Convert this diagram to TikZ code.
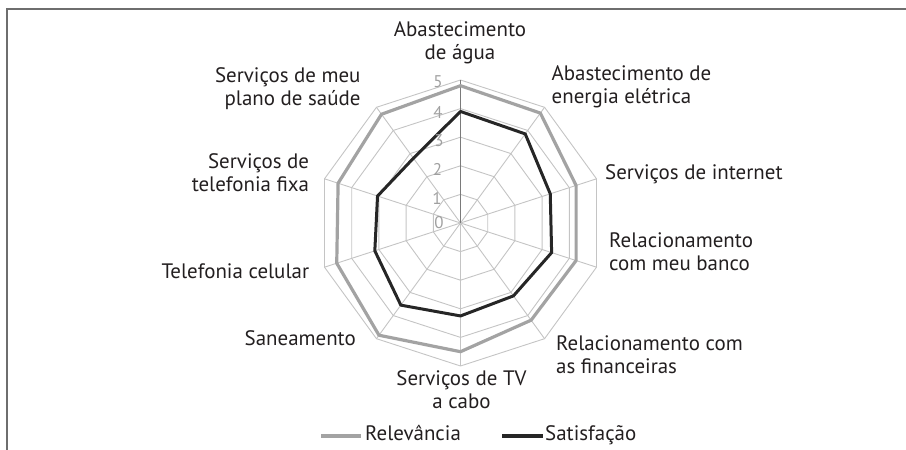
\documentclass[tikz,border=0pt]{standalone}
\usepackage{fontspec}
\setmainfont{PT Sans}
\definecolor{gridgray}{HTML}{C4C4C4}
\definecolor{axisgray}{HTML}{7A7A7A}
\definecolor{relgray}{HTML}{A3A3A3}
\definecolor{satblack}{HTML}{262626}
\definecolor{txt}{HTML}{231F20}
\definecolor{tickgray}{HTML}{A0A0A0}
\definecolor{framegray}{HTML}{6E6E6E}
\begin{document}
\begin{tikzpicture}[x=1bp,y=-1bp,
  grid/.style={draw=gridgray, line width=0.9bp},
  axisline/.style={draw=axisgray, line width=0.9bp},
  relev/.style={draw=relgray, line width=3.2bp, line join=round},
  satis/.style={draw=satblack, line width=3bp, line join=round},
  lbl/.style={font=\fontsize{21}{23.3}\selectfont, text=txt, inner sep=0pt},
  tick/.style={font=\fontsize{17}{18}\selectfont, text=tickgray, inner sep=0pt},
  frameline/.style={draw=framegray, line width=1.5bp}]
\useasboundingbox (0,0) rectangle (906,450);
\def\U{28.6}
% frame
\coordinate (fbl) at (7,450);
\coordinate (ftl) at (7,9);
\coordinate (ftr) at (906,9);
\draw[frameline] (fbl) -- (ftl) -- (ftr);
\coordinate (C) at (460.5,223);
\begin{scope}[shift={(C)}]
  % rings
  \foreach \r in {1,...,5} {
    \draw[grid] (-90:{\r*\U}) \foreach \k in {1,...,9} { -- ({36*\k-90}:{\r*\U}) } -- cycle;
  }
  % spokes
  \foreach \k in {1,...,9} {
    \draw[grid] (0,0) -- ({36*\k-90}:{5*\U});
  }
  \draw[axisline] (0,0) -- (-90:{5*\U});
  % Relevancia
  \draw[relev] (-90:{4.8*\U}) -- (-54:{4.75*\U}) -- (-18:{4.25*\U}) -- (18:{4.25*\U})
    -- (54:{4.2*\U}) -- (90:{4.5*\U}) -- (126:{4.85*\U}) -- (162:{4.55*\U})
    -- (198:{4.5*\U}) -- (234:{4.7*\U}) -- cycle;
  % Satisfacao
  \draw[satis] (-90:{3.9*\U}) -- (-54:{3.85*\U}) -- (-18:{3.3*\U}) -- (18:{3.35*\U})
    -- (54:{3.15*\U}) -- (90:{3.25*\U}) -- (126:{3.55*\U}) -- (162:{3.15*\U})
    -- (198:{3.05*\U}) -- (234:{2.8*\U}) -- cycle;
\end{scope}
% axis numbers
\node[tick] (t5) at (438,82) {5};
\node[tick] (t4) at (438,112) {4};
\node[tick] (t3) at (439,141) {3};
\node[tick] (t2) at (437.5,169) {2};
\node[tick] (t1) at (437,198) {1};
\node[tick] (t0) at (439,223) {0};
% category labels (base anchor = baseline of last line)
\node[lbl, anchor=base, align=center] (agua) at (460,59.3) {Abastecimento\\de água};
\node[lbl, anchor=base west, align=left] (energia) at (551.5,103.3) {Abastecimento de\\energia elétrica};
\node[lbl, anchor=base west] (internet) at (605,179.3) {Serviços de internet};
\node[lbl, anchor=base west, align=left] (banco) at (609,270.7) {Relacionamento\\com meu banco};
\node[lbl, anchor=base west, align=left] (financ) at (556,374) {Relacionamento com\\as financeiras};
\node[lbl, anchor=base, align=center] (tv) at (461.5,408.3) {Serviços de TV\\a cabo};
\node[lbl, anchor=base east] (saneam) at (356,345.7) {Saneamento};
\node[lbl, anchor=base east] (celular) at (309.3,278.3) {Telefonia celular};
\node[lbl, anchor=base east, align=right] (fixa) at (309.3,191.7) {Serviços de\\telefonia fixa};
\node[lbl, anchor=base east, align=right] (saude) at (360.7,106) {Serviços de meu\\plano de saúde};
% legend
\coordinate (lra) at (321,436);
\coordinate (lrb) at (361,436);
\draw[relev, line width=4bp] (lra) -- (lrb);
\node[lbl, anchor=base west] (lrel) at (365,440) {Relevância};
\coordinate (lsa) at (502,436);
\coordinate (lsb) at (543,436);
\draw[satis, line width=4bp] (lsa) -- (lsb);
\node[lbl, anchor=base west] (lsat) at (545,440) {Satisfação};
\end{tikzpicture}
\end{document}
